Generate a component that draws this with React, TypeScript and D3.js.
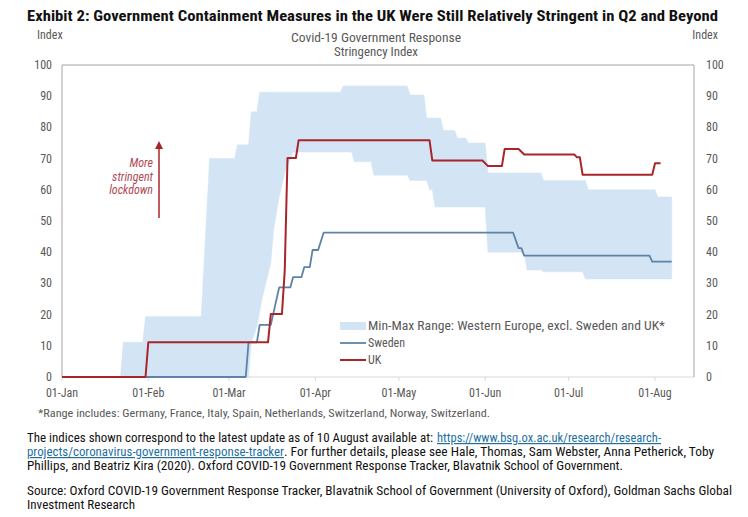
import React from 'react';
import * as d3 from 'd3';

// Values as [days since 01-Jan-2020, index value]
const ukPoints: [number, number][] = [
  [0, 0], [30, 0], [31, 11.1], [74, 11.1], [75, 20.2], [79, 20.2], [80, 34], [81, 70.2],
  [84, 70.2], [85, 75.9], [132, 75.9], [133, 69.4], [151, 69.4], [153, 67.6], [158, 67.6],
  [159, 73.1], [164, 73.1], [166, 71.3], [184, 71.3], [185, 70.4], [186, 70.4], [187, 64.8],
  [212, 64.8], [213, 68.5], [215, 68.5],
];

const swedenPoints: [number, number][] = [
  [0, 0], [66, 0], [67, 11.1], [70, 11.1], [71, 16.7], [75, 16.7], [78, 28.7], [82, 28.7],
  [83, 32], [86, 32], [87, 35.2], [89, 35.2], [90, 40.7], [92, 40.7], [94, 46.3], [162, 46.3],
  [164, 41.3], [165, 41.3], [166, 38.9], [211, 38.9], [212, 37], [219, 37],
];

const bandUpper: [number, number][] = [
  [21, 0], [22, 11.1], [29, 11.1], [30, 19.4], [50, 19.4], [53, 70], [62, 70], [63, 74.4],
  [67, 74.4], [68, 85], [70, 85], [71, 91.3], [100, 91.3], [101, 93.3], [124, 93.3],
  [125, 90.4], [130, 90.4], [131, 83], [136, 83], [137, 79], [141, 79], [142, 76.6],
  [145, 76.6], [146, 75], [152, 75], [153, 65.4], [172, 65.4], [173, 63], [188, 63],
  [189, 60], [213, 60], [214, 57.7], [219, 57.7],
];

const bandLower: [number, number][] = [
  [21, 0], [67, 0], [68, 11], [70, 16], [72, 25.6], [75, 36.5], [76, 47], [78, 57.7],
  [80, 65.4], [83, 72], [84, 72.1], [104, 72.1], [105, 69], [111, 69], [112, 64.7],
  [124, 64.7], [125, 63], [131, 63], [132, 60], [133, 60], [134, 54.5], [152, 54.5],
  [153, 40], [166, 40], [167, 34.3], [172, 34.3], [173, 33.7], [187, 33.7], [188, 31.4],
  [219, 31.4],
];

const yTicks = [0, 10, 20, 30, 40, 50, 60, 70, 80, 90, 100];
const annotationLines = ['More', 'stringent', 'lockdown'];
const legendLabels = ['Min-Max Range: Western Europe, excl. Sweden and UK*', 'Sweden', 'UK'];

const FONT = "'Liberation Sans Narrow','Arial Narrow','Roboto Condensed','Liberation Sans',Arial,sans-serif";
const GREY = '#595959';
const BAND = '#d3e5f5';
const SWEDEN = '#5f83a6';
const UK = '#a8262b';
const LINK = '#1f6f9f';

export default function App() {
  const start = new Date(2020, 0, 1);
  const end = new Date(2020, 7, 15);
  const day = (d: number) => new Date(2020, 0, 1 + d);
  const x = d3.scaleTime().domain([start, end]).range([62, 694]);
  const y = d3.scaleLinear().domain([0, 100]).range([377, 65]);
  const line = d3.line<[number, number]>().x(p => x(day(p[0]))).y(p => y(p[1]));
  const bandPath = (line([...bandUpper, ...bandLower.slice().reverse()]) || '') + 'Z';
  const months = d3.timeMonth.range(new Date(2020, 0, 1), new Date(2020, 7, 2));
  const fmt = d3.timeFormat('%d-%b');
  const [x0, x1] = x.range();
  const [yb, yt] = y.range();

  return (
    <svg width={748} height={517} style={{ position: 'absolute', left: 0, top: 0, background: '#fff' }}
      fontFamily={FONT}>
      <rect x={0} y={0} width={748} height={517} fill="#fff" />
      <text x={27} y={21} fontSize={14.5} fontWeight="bold" fill="#111" textLength={691} lengthAdjust="spacingAndGlyphs">
        Exhibit 2: Government Containment Measures in the UK Were Still Relatively Stringent in Q2 and Beyond
      </text>
      <text x={37} y={39} fontSize={12} fill={GREY}>Index</text>
      <text x={718} y={39} fontSize={12} fill={GREY} textAnchor="end">Index</text>
      <text x={376} y={42} fontSize={12} fill={GREY} textAnchor="middle" textLength={170} lengthAdjust="spacingAndGlyphs">Covid-19 Government Response</text>
      <text x={376} y={56} fontSize={12} fill={GREY} textAnchor="middle" textLength={84} lengthAdjust="spacingAndGlyphs">Stringency Index</text>

      {/* band */}
      <path d={bandPath} fill={BAND} stroke={BAND} strokeWidth={0.5} />

      {/* frame */}
      <line x1={x0} x2={x1} y1={yb} y2={yb} stroke="#d9d9d9" strokeWidth={1} />
      <line x1={x0} x2={x1} y1={yt} y2={yt} stroke="#a6a6a6" strokeWidth={1} />
      <line x1={x0} x2={x0} y1={yt} y2={yb} stroke="#a6a6a6" strokeWidth={1} />
      <line x1={x1} x2={x1} y1={yt} y2={yb} stroke="#a6a6a6" strokeWidth={1} />
      {months.map((m, i) => (
        <g key={i}>
          <line x1={x(m)} x2={x(m)} y1={yb} y2={yb + 4} stroke="#d9d9d9" />
          <text x={x(m)} y={397} fontSize={12} fill={GREY} textAnchor="middle">{fmt(m)}</text>
        </g>
      ))}
      {yTicks.map(t => (
        <g key={t}>
          <text x={52} y={y(t) + 4} fontSize={12} fill={GREY} textAnchor="end">{t}</text>
          <text x={706} y={y(t) + 4} fontSize={12} fill={GREY}>{t}</text>
        </g>
      ))}

      {/* lines */}
      <path d={line(swedenPoints) || ''} fill="none" stroke={SWEDEN} strokeWidth={1.8} strokeLinejoin="round" />
      <path d={line(ukPoints) || ''} fill="none" stroke={UK} strokeWidth={2} strokeLinejoin="round" />

      {/* annotation */}
      <line x1={159} x2={159} y1={218} y2={148} stroke={UK} strokeWidth={1.5} />
      <path d="M155,149 L159,141 L163,149 Z" fill={UK} />
      {annotationLines.map((s, i) => (
        <text key={s} x={153} y={167 + i * 13.5} fontSize={12} fontStyle="italic" fill="#b04a55" textAnchor="end">{s}</text>
      ))}

      {/* legend */}
      <rect x={340} y={322} width={26} height={8} fill={BAND} />
      <line x1={340} x2={366} y1={343} y2={343} stroke={SWEDEN} strokeWidth={1.8} />
      <line x1={340} x2={366} y1={360} y2={360} stroke={UK} strokeWidth={2} />
      <text x={368} y={330} fontSize={12} fill={GREY} textLength={297} lengthAdjust="spacingAndGlyphs">{legendLabels[0]}</text>
      <text x={368} y={347} fontSize={12} fill={GREY}>{legendLabels[1]}</text>
      <text x={368} y={364} fontSize={12} fill={GREY}>{legendLabels[2]}</text>

      {/* notes */}
      <text x={38} y={417} fontSize={10.5} fill={GREY} textLength={452} lengthAdjust="spacingAndGlyphs">
        *Range includes: Germany, France, Italy, Spain, Netherlands, Switzerland, Norway, Switzerland.
      </text>
      <g fontSize={12} fill="#111">
        <text x={27} y={442} textLength={406} lengthAdjust="spacingAndGlyphs">The indices shown correspond to the latest update as of 10 August available at:</text>
        <text x={437} y={442} fill={LINK} textDecoration="underline" textLength={224} lengthAdjust="spacingAndGlyphs">https://www.bsg.ox.ac.uk/research/research-</text>
        <text x={27} y={456} fill={LINK} textDecoration="underline" textLength={257} lengthAdjust="spacingAndGlyphs">projects/coronavirus-government-response-tracker</text>
        <text x={284} y={456} textLength={430} lengthAdjust="spacingAndGlyphs">. For further details, please see Hale, Thomas, Sam Webster, Anna Petherick, Toby</text>
        <text x={27} y={470} textLength={596} lengthAdjust="spacingAndGlyphs">Phillips, and Beatriz Kira (2020). Oxford COVID-19 Government Response Tracker, Blavatnik School of Government.</text>
        <text x={27} y={495} textLength={705} lengthAdjust="spacingAndGlyphs">Source: Oxford COVID-19 Government Response Tracker, Blavatnik School of Government (University of Oxford), Goldman Sachs Global</text>
        <text x={27} y={509} textLength={108} lengthAdjust="spacingAndGlyphs">Investment Research</text>
      </g>
    </svg>
  );
}
